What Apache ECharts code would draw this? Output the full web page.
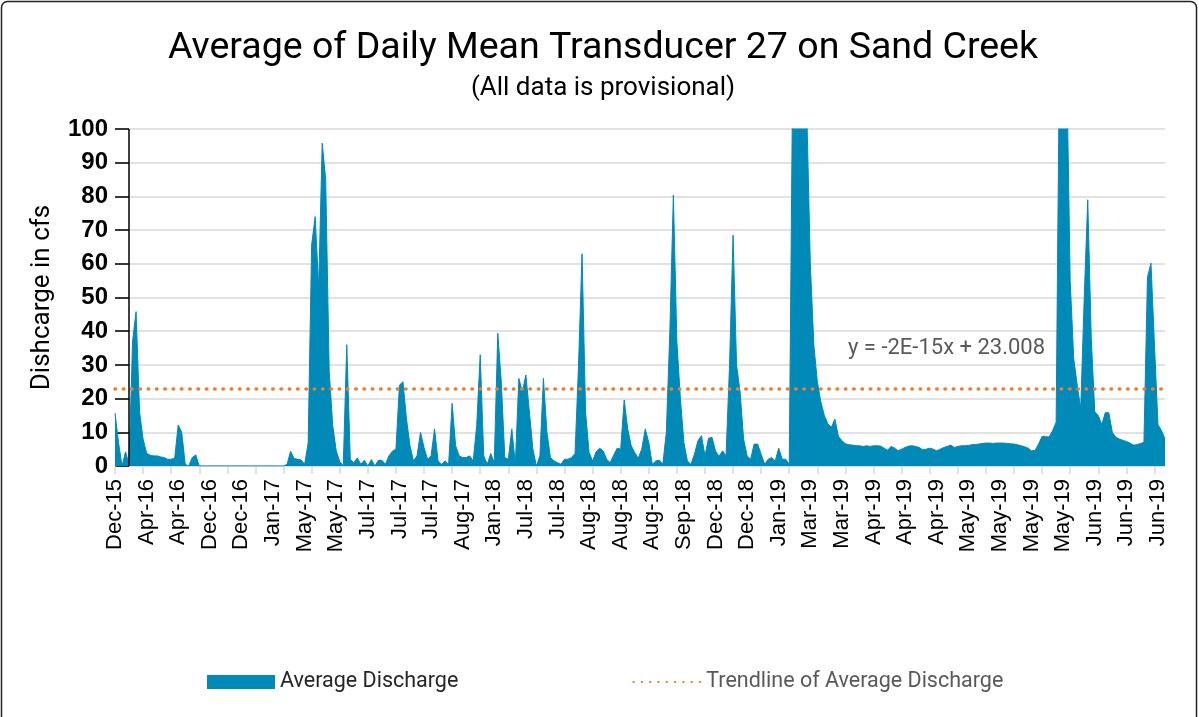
<!DOCTYPE html>
<html>
<head>
<meta charset="utf-8">
<script src="https://cdn.jsdelivr.net/npm/echarts@6/dist/echarts.min.js"></script>
<style>
html,body{margin:0;padding:0;background:#fff;}
#chart{width:1199px;height:717px;}
</style>
</head>
<body>
<div id="chart"></div>
<script>
const tickLabels = ['Dec-15','Apr-16','Apr-16','Dec-16','Dec-16','Jan-17','May-17','May-17','Jul-17','Jul-17','Jul-17','Aug-17','Jan-18','Jul-18','Jul-18','Aug-18','Aug-18','Aug-18','Sep-18','Dec-18','Dec-18','Jan-19','Mar-19','Mar-19','Apr-19','Apr-19','Apr-19','May-19','May-19','May-19','May-19','Jun-19','Jun-19','Jun-19'];

const discharge = [
15.7, 7, 0, 4.2, 0.5, 37, 45.8, 16, 8, 3.8,
3.2, 3, 3, 2.7, 2.5, 2, 2, 2.3, 12.2, 10,
0.5, 0, 2.5, 3.3, 0, 0, 0, 0, 0, 0,
0, 0, 0, 0, 0, 0, 0, 0, 0, 0,
0, 0, 0, 0, 0, 0, 0, 0, 0, 0.5,
4.4, 2.2, 2, 1.8, 0.5, 6.8, 65.6, 74, 53, 95.8,
85, 28, 12, 4.5, 1.3, 0, 36, 2, 1, 2.4,
0.5, 1.7, 0, 1.9, 0, 1.7, 1.7, 0.5, 3, 4.4,
5, 24, 25, 14, 6, 1.5, 3, 10, 5.5, 2,
3, 11, 1.5, 0.5, 1.5, 0.5, 18.6, 6, 3, 2.5,
2.5, 3, 1.5, 12, 33, 3, 0.5, 3.7, 1, 39.4,
25, 2.5, 2, 11, 0.5, 26, 22, 27, 16, 5,
0, 3, 26, 10, 2.5, 1.5, 1, 0.5, 2, 2,
2.5, 3.7, 30, 63, 16, 4, 1.5, 4.2, 5.3, 4.5,
2, 1, 3.2, 5.3, 5, 19.6, 11, 6, 4, 2.3,
5, 11, 7, 0.5, 1.5, 1.7, 0.5, 10, 40, 80.4,
37, 20, 7, 1.5, 0.5, 3.5, 7.5, 9, 3, 8.2,
8.5, 4.5, 2.8, 4.5, 3, 30, 68.5, 30, 22, 8,
3, 2, 6.5, 6.5, 3.5, 0.5, 2, 2.5, 1.5, 5.3,
2, 2, 0.5, 120, 170, 180, 160, 105, 60, 36,
25, 19, 15, 12.5, 11.5, 13.9, 8.8, 7.5, 6.6, 6.3,
6.2, 6, 6, 5.8, 6, 5.8, 6, 6, 5.9, 5.3,
4.7, 5.8, 5.3, 4.5, 5, 5.5, 5.9, 6, 5.8, 5.5,
4.8, 5, 5.3, 5, 4.5, 5, 5.5, 5.8, 6.2, 5.5,
5.8, 6, 6, 6.1, 6.3, 6.4, 6.5, 6.7, 6.8, 6.8,
6.7, 6.8, 6.8, 6.8, 6.7, 6.6, 6.5, 6.3, 6, 5.7,
5.3, 4.5, 4.6, 6.5, 8.8, 8.7, 8.6, 10.5, 13, 130,
160, 120, 55, 32, 24, 17, 50, 79, 38, 16,
15, 12.3, 15.8, 15.8, 10, 8.5, 8, 7.6, 7.3, 6.8,
6.2, 6.3, 6.7, 7, 56, 60.2, 36, 12.3, 10.5, 8
];

const trendIntercept = 23.008;
const trendText = 'y = -2E-15x + 23.008';
const yAxisCrossIndex = 4;

const categories = discharge.map((_, i) => tickLabels[Math.floor(i / 9)]);

const blue = '#0189b7';
const orange = '#ED7D31';
const dotStyle = { color: orange, width: 3.5, type: [0.5, 7.8], cap: 'round' };

const chart = echarts.init(document.getElementById('chart'), null, { renderer: 'canvas' });
chart.setOption({
  animation: false,
  backgroundColor: '#fff',
  grid: { left: 115, right: 34, top: 129, bottom: 251, containLabel: false },
  graphic: [
    { type: 'rect', shape: { x: 1.5, y: 1.5, width: 1195, height: 730, r: 6 }, style: { fill: 'none', stroke: '#222', lineWidth: 1.5 }, z: -1 },
    { type: 'text', x: 603, y: 49, style: { text: 'Average of Daily Mean Transducer 27 on Sand Creek', fontSize: 37.5, fontFamily: 'Roboto', fill: '#000', align: 'center', verticalAlign: 'middle' } },
    { type: 'text', x: 603, y: 88, style: { text: '(All data is provisional)', fontSize: 26, fontFamily: 'Roboto', fill: '#000', align: 'center', verticalAlign: 'middle' } },
    { type: 'text', x: 848, y: 348, style: { text: trendText, fontSize: 22, fontFamily: 'Roboto', fill: '#595959', align: 'left', verticalAlign: 'middle' } }
  ],
  legend: {
    left: 202, top: 666, itemWidth: 68, itemHeight: 14, itemGap: 174,
    textStyle: { fontSize: 21.5, fontFamily: 'Roboto', color: '#262626' },
    data: [
      { name: 'Average Discharge', icon: 'rect' },
      { name: 'Trendline of Average Discharge', textStyle: { color: '#595959' }, itemStyle: { opacity: 0 } }
    ]
  },
  xAxis: {
    type: 'category', data: categories, boundaryGap: false,
    axisLine: { lineStyle: { color: '#d9d9d9', width: 1.5 } },
    axisTick: { show: true, interval: 7, length: 8, lineStyle: { color: '#d9d9d9', width: 1.5 } },
    axisLabel: { interval: 8, rotate: 90, fontSize: 22, fontFamily: 'Liberation Sans', color: '#000', margin: 13 },
    splitLine: { show: false }
  },
  yAxis: {
    type: 'value', min: 0, max: 100, interval: 10,
    name: 'Dishcarge in cfs', nameLocation: 'middle', nameGap: 60,
    nameTextStyle: { fontSize: 26, fontFamily: 'Roboto', color: '#000' },
    axisLine: { show: false },
    axisTick: { show: true, inside: true, length: 14, lineStyle: { color: '#000', width: 1.5 } },
    axisLabel: { fontSize: 24, fontWeight: 'bold', fontFamily: 'Liberation Sans', color: '#000', margin: 7 },
    splitLine: { lineStyle: { color: '#d9d9d9', width: 1.5 } }
  },
  series: [
    {
      name: 'Average Discharge', type: 'line', data: discharge, symbol: 'none', clip: true,
      itemStyle: { color: blue },
      lineStyle: { color: blue, width: 1 },
      areaStyle: { color: blue, opacity: 1 },
      markLine: {
        silent: true, symbol: 'none', label: { show: false },
        lineStyle: { color: '#000', width: 1.5, type: 'solid' },
        data: [{ xAxis: yAxisCrossIndex }]
      }
    },
    {
      name: 'Trendline of Average Discharge', type: 'line', data: [], symbol: 'none',
      itemStyle: { color: orange },
      lineStyle: dotStyle,
      markLine: {
        silent: true, symbol: 'none', label: { show: false },
        lineStyle: dotStyle,
        data: [{ yAxis: trendIntercept }]
      }
    }
  ]
});
</script>
</body>
</html>
